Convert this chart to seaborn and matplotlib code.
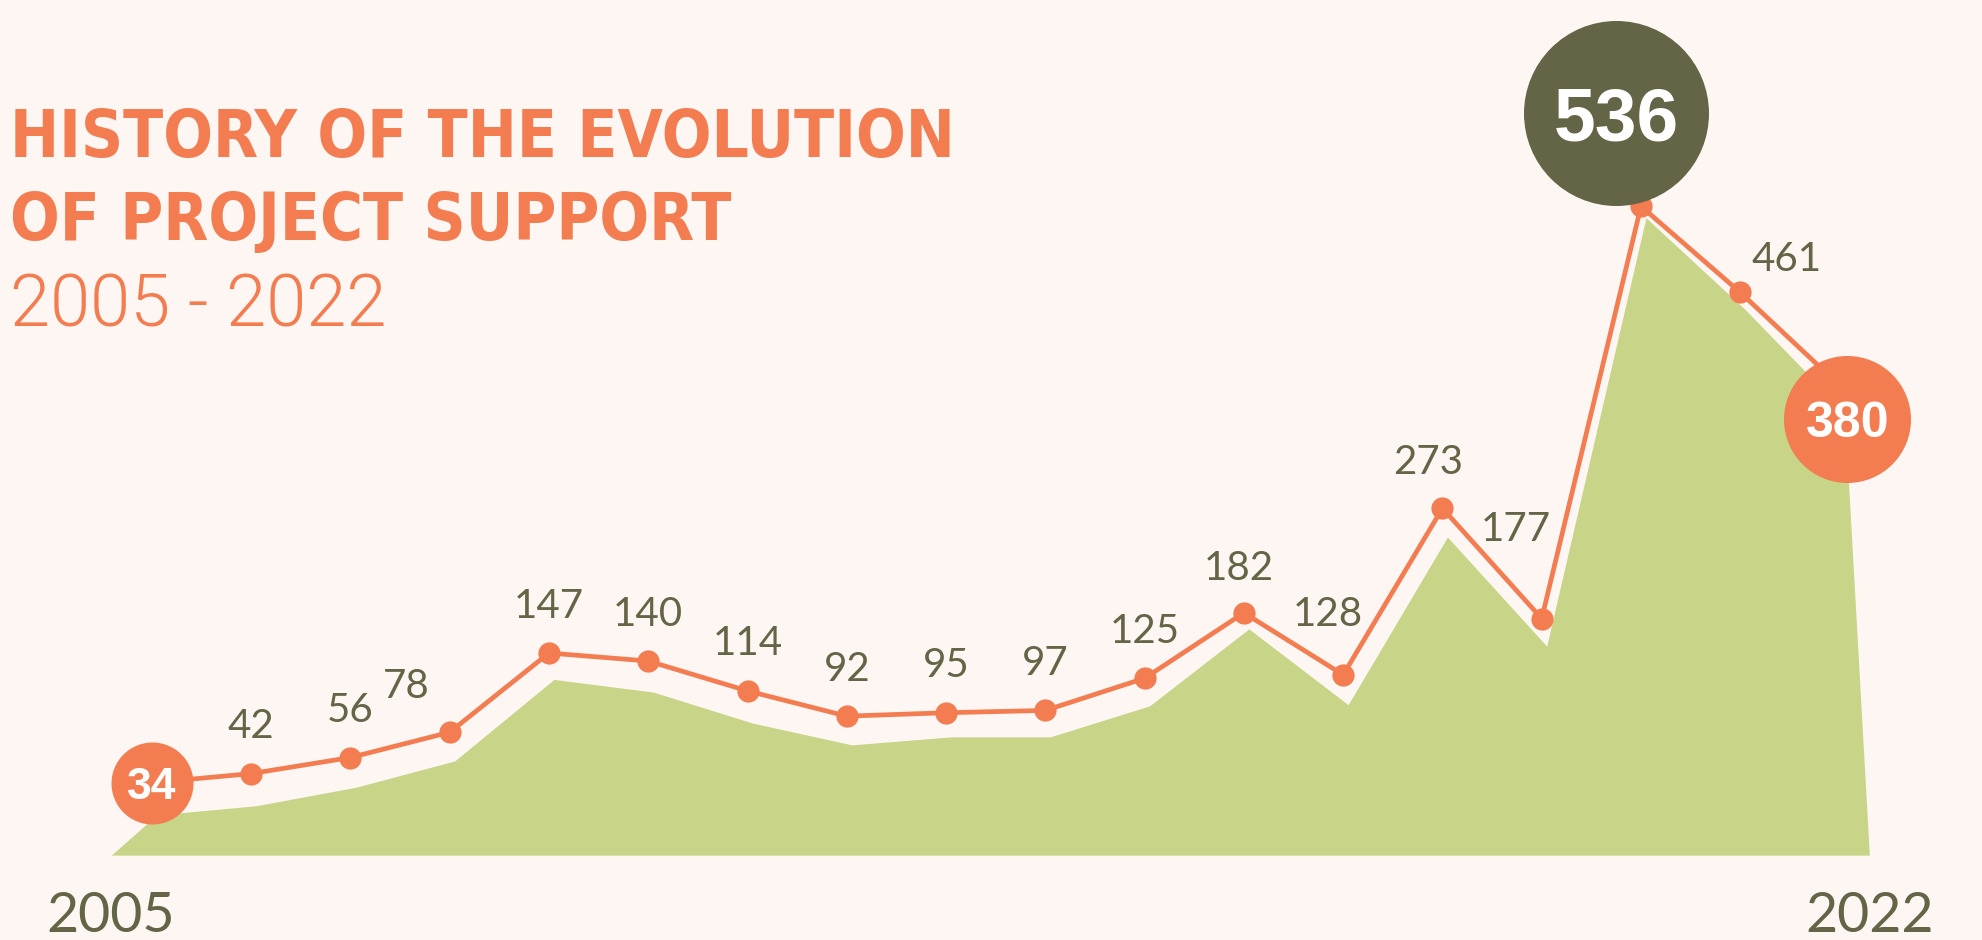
"""
History of the evolution of project support, 2005 - 2022.
Line with markers over a decorative green area, big circles on key values.
"""

import matplotlib

matplotlib.use("Agg")
import matplotlib.pyplot as plt
from matplotlib.transforms import offset_copy
import seaborn as sns

# Data
years = list(range(2005, 2023))
projects = [34, 42, 56, 78, 147, 140, 114, 92, 95, 97, 125, 182, 128, 273, 177, 536, 461, 380]
area_values = [6, 14, 30, 53, 124, 113, 86, 67, 74, 74, 101, 168, 102, 248, 153, 526, 446, 357]
area_start = 2004.59
area_end = 2022.30
area_base = -29

title_lines = ["HISTORY OF THE EVOLUTION", "OF PROJECT SUPPORT"]
subtitle = "2005 - 2022"

# Colours
BG = "#FDF6F2"
ORANGE = "#F37C50"
OLIVE = "#646446"
GREEN = "#C8D488"
WHITE = "#FFFFFF"

sns.set_style("white", {"axes.facecolor": BG, "figure.facecolor": BG})
plt.rcParams["font.family"] = ["Lato", "Liberation Sans", "DejaVu Sans"]

fig = plt.figure(figsize=(19.83, 9.40), dpi=100)
ax = fig.add_axes([0, 0, 1, 1])
ax.set_xlim(2003.47, 2023.445)
ax.set_ylim(-102.9, 715.6)
ax.axis("off")

# Green decorative area, slightly below the line
area_x = [area_start] + [y + 0.05 for y in years] + [area_end]
area_y = [area_base] + area_values + [area_base]
ax.fill_between(area_x, area_base, area_y, color=GREEN, linewidth=0, zorder=1)

# Main line
sns.lineplot(
    x=years,
    y=projects,
    ax=ax,
    color=ORANGE,
    linewidth=3.4,
    marker="o",
    markersize=16,
    markeredgewidth=0,
    zorder=3,
)

# Value labels (offsets in points from the marker)
label_offsets = {
    2008: (-31, 35),
    2016: (-4, 34),
    2017: (-11, 46),
    2018: (-10, 35),
    2019: (-19, 66),
    2021: (33, 26),
}
# Highlighted values: offset (pt), circle diameter (px), font size, colour
highlights = {
    2005: ((0, 0), 82, 32, ORANGE),
    2020: ((-18, 67), 185, 54, OLIVE),
    2022: ((5.5, -24), 127, 36, ORANGE),
}

for yr, value in zip(years, projects):
    if yr in highlights:
        continue
    dx, dy = label_offsets.get(yr, (0, 36))
    ax.annotate(
        str(value),
        (yr, value),
        xytext=(dx, dy - 10.5),
        textcoords="offset points",
        ha="center",
        va="baseline",
        fontsize=29,
        color=OLIVE,
        zorder=4,
    )

for yr, value in zip(years, projects):
    if yr not in highlights:
        continue
    (dx, dy), diameter, size, colour = highlights[yr]
    trans = offset_copy(ax.transData, fig=fig, x=dx, y=dy, units="points")
    ax.scatter([yr], [value], s=(diameter * 0.72) ** 2, color=colour,
               linewidths=0, transform=trans, zorder=5)
    cap = size * 0.716
    ax.annotate(
        str(value),
        (yr, value),
        xytext=(dx, dy - cap / 2),
        textcoords="offset points",
        ha="center",
        va="baseline",
        fontsize=size,
        fontweight="bold",
        color=WHITE,
        family=["Liberation Sans", "DejaVu Sans"],
        zorder=6,
    )

# Start / end years under the area
for x, label in [(area_start, "2005"), (area_end, "2022")]:
    ax.annotate(
        label,
        (x, area_base),
        xytext=(0, -55.5),
        textcoords="offset points",
        ha="center",
        va="baseline",
        fontsize=40,
        color=OLIVE,
    )

# Title block
title_family = ["Noto Sans Condensed", "DejaVu Sans Condensed", "Liberation Sans Narrow", "DejaVu Sans"]
for text, y in [(title_lines[0], 0.833), (title_lines[1], 0.745)]:
    fig.text(0.005, y, text, fontsize=47, fontweight="bold", fontstretch="condensed",
             color=ORANGE, family=title_family, va="baseline")
fig.text(0.005, 0.653, subtitle, fontsize=52, fontweight=300, color=ORANGE,
         family=["Roboto", "Liberation Sans"], va="baseline")

fig.savefig("out.png", dpi=100, facecolor=BG)
